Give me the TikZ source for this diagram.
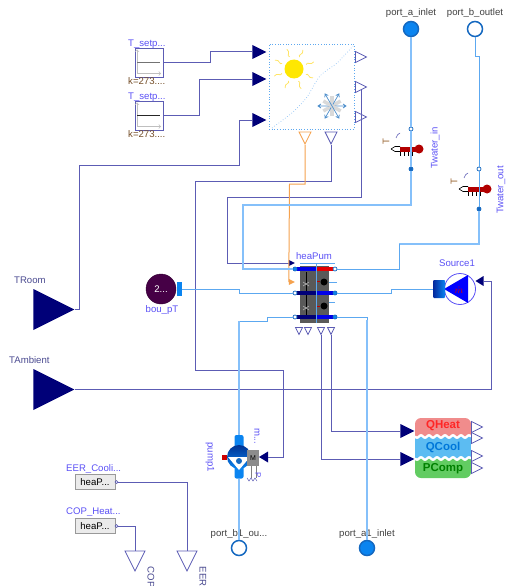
\documentclass[tikz,border=0pt]{standalone}
\usepackage{amsmath,amssymb}
\usepackage{fontspec}
\setmainfont{Liberation Sans}
\usetikzlibrary{shapes.geometric}
\definecolor{ctrlblue}{HTML}{5C5CB4}
\definecolor{navyin}{HTML}{000078}
\definecolor{fluidblue}{HTML}{85C0FA}
\definecolor{fluidthin}{HTML}{5CA8F0}
\definecolor{orangeout}{HTML}{F5A24E}
\definecolor{lblblue}{HTML}{5A50F5}
\definecolor{lbldark}{HTML}{4A4A90}
\definecolor{portblue}{HTML}{0A84F0}
\definecolor{portedge}{HTML}{1468C0}
\definecolor{qheatfill}{HTML}{F08C8C}
\definecolor{qcoolfill}{HTML}{5CBCF2}
\definecolor{pcompfill}{HTML}{62CC62}
\tikzset{
  ctrl/.style={ctrlblue, line width=1pt},
  fluid/.style={fluidblue, line width=1.3pt},
  fluidt/.style={fluidthin, line width=0.8pt},
  lbl/.style={font=\fontsize{9.6}{11}\selectfont, text=lblblue, inner sep=0pt},
  lbld/.style={lbl, text=black!75},
  tri/.style={isosceles triangle, isosceles triangle stretches, inner sep=0pt},
  bigin/.style={tri, fill=navyin, minimum width=41pt, minimum height=41pt, anchor=apex},
  smallin/.style={tri, fill=navyin, minimum width=14pt, minimum height=14pt, anchor=apex},
  tinyin/.style={tri, fill=navyin, minimum width=10pt, minimum height=8pt, anchor=apex, shape border rotate=180},
  outr/.style={tri, draw=ctrlblue, fill=white, line width=0.8pt, minimum width=11pt, minimum height=11pt, anchor=lower side},
  outd/.style={tri, draw=ctrlblue, fill=white, line width=0.8pt, shape border rotate=270, minimum width=12pt, minimum height=12pt, anchor=lower side},
  outs/.style={outd, minimum width=7pt, minimum height=7pt},
  bigport/.style={circle, draw=portedge, line width=1.5pt, minimum size=15pt, inner sep=0pt},
  sdot/.style={circle, draw=portedge, line width=0.7pt, minimum size=4pt, inner sep=0pt},
  srcbox/.style={rectangle, draw=ctrlblue, fill=white, line width=0.9pt, minimum width=28pt, minimum height=29pt, inner sep=0pt},
  gainbox/.style={rectangle, draw=black!40, fill=black!8, line width=1pt, font=\fontsize{9.6}{11}\selectfont, minimum width=40pt, minimum height=15pt, inner sep=0pt},
  qtext/.style={font=\fontsize{11.5}{13}\bfseries\selectfont, inner sep=0pt},
  wave/.style={white, line width=2.4pt, smooth, samples=57},
  nub/.style={rectangle, rounded corners=2pt, fill=portblue, minimum width=9pt, minimum height=13pt, inner sep=0pt},
}
\newcommand{\sensor}[3]{%
  \begin{scope}[shift={(#2,#3)}]
    \fill[red!70!black] (-11,-2.5) rectangle (8,2.5);
    \draw[line width=0.6pt] (-20,0) -- (-16,-2.5) -- (-11,-2.5) (-20,0) -- (-16,2.5) -- (-11,2.5);
    \foreach \t in {-11,-7,-3,1} \draw[line width=0.7pt] (\t,2.5) -- (\t,7);
    \fill[red!70!black] (8,0) circle (4.5);
    \draw[ctrlblue, line width=0.6pt] (-15,-11) .. controls (-14,-14) and (-13,-15) .. (-11,-16);
    \node[lbl, text=brown!80!black, rotate=90] (#1t) at (-25,-7) {T};
  \end{scope}
  \node[sdot, fill=white] (#1a) at (#2,#3-20) {};
  \node[sdot, fill=portedge] (#1b) at (#2,#3+20) {};
}
\newcommand{\srcplot}[2]{%
  \draw[black!25, line width=0.7pt, ->] (137,#2+11) -- (137,#2-13);
  \draw[black!25, line width=0.7pt, ->] (137,#2+11) -- (161,#2+11);
  \draw[#1, line width=1pt] (137,#2) -- (160,#2);
}
\begin{document}
\begin{tikzpicture}[x=1pt,y=-1pt]
  \useasboundingbox (0,0) rectangle (506,586);
  % sources
  \node[srcbox] (tsetpa) at (149,62.5) {};
  \node[srcbox] (tsetpb) at (149,115.5) {};
  \srcplot{black!55}{62.5}
  \srcplot{black!85}{115.5}
  \node[lbl, anchor=west] (tsetpalbl) at (128,44.5) {T\_setp...};
  \node[lbl, anchor=west] (tsetpblbl) at (128,97.5) {T\_setp...};
  \node[lbl, text=brown!60!black, anchor=west] (kalbl) at (128,81.5) {k=273....};
  \node[lbl, text=brown!60!black, anchor=west] (kblbl) at (128,134.5) {k=273....};
  % heating and cooling box
  \node[rectangle, draw=fluidthin, dotted, line width=0.7pt, minimum size=85pt, inner sep=0pt] (sunbox) at (311.5,86.5) {};
  \draw[fluidthin!70, dotted, line width=0.7pt] plot[smooth] coordinates {(272,128) (293,112) (307,97) (320,76) (337,63) (353,46)};
  \foreach \a in {0,45,...,315}
    \draw[orange!35!yellow!60, line width=0.8pt, shift={(294,69)}, rotate=\a+20] (13,0) .. controls (15,-3) and (17,3) .. (21,0);
  \fill[yellow!90!orange] (294,69) circle (9.5);
  \foreach \a in {0,60,120} {
    \draw[black!15, line width=3.5pt, shift={(332,106)}, rotate=\a+30] (-10,0) -- (10,0);
    \draw[fluidthin!85!black, line width=0.7pt, shift={(332,106)}, rotate=\a] (-14,0) -- (14,0) (11,-2) -- (14,0) -- (11,2) (-11,-2) -- (-14,0) -- (-11,2);
  }
  \node[smallin] (sunina) at (267,52) {};
  \node[smallin] (suninb) at (267,79) {};
  \node[smallin] (suninc) at (267,120) {};
  \node[outr] (sunouta) at (355,57) {};
  \node[outr] (sunoutb) at (355,87) {};
  \node[outr] (sunoutc) at (355,117) {};
  \node[outd, draw=orangeout] (sunoutd) at (305,131.5) {};
  \node[outd] (sunoute) at (331,131.5) {};
  % big inputs and ports
  \node[bigin] (troom) at (75,309.5) {};
  \node[bigin] (tamb) at (75,389.5) {};
  \node[lbl, text=lbldark, anchor=west] (troomlbl) at (14,280.5) {TRoom};
  \node[lbl, text=lbldark, anchor=west] (tamblbl) at (9,360.5) {TAmbient};
  \node[bigport, fill=portblue] (porta) at (411,29) {};
  \node[bigport, fill=white] (portb) at (475,29) {};
  \node[bigport, fill=white] (portbi) at (239,548) {};
  \node[bigport, fill=portblue] (portai) at (367,548) {};
  \node[lbld] (portalbl) at (411,13) {port\_a\_inlet};
  \node[lbld] (portblbl) at (475,13) {port\_b\_outlet};
  \node[lbld] (portbilbl) at (239,534) {port\_b1\_ou...};
  \node[lbld] (portailbl) at (367,534) {port\_a1\_inlet};
  % temperature sensors
  \sensor{twin}{411}{149}
  \sensor{twout}{479}{189}
  \node[lbl, rotate=90] (twinlbl) at (435,148) {Twater\_in};
  \node[lbl, rotate=90] (twoutlbl) at (501,190) {Twater\_out};
  % heat pump
  \node[rectangle, fill=black!65, minimum width=29pt, minimum height=57pt, inner sep=0pt] (heapum) at (314.5,294.5) {};
  \node[lbl] (heapumlbl) at (314,256) {heaPum};
  \draw[black, line width=0.6pt] (306,272) -- (306,315);
  \draw[black!30, line width=0.6pt] (303,282) -- (309,286) (303,286) -- (309,282) (303,306) -- (309,310) (303,310) -- (309,306);
  \draw[red!75!black, line width=0.6pt] (316,272) |- (320,281) (316,296) |- (320,306);
  \fill[black] (324,282) circle (3.5) (324,306) circle (3.5);
  \foreach \yy in {293,317} {
    \fill[navyin] (297,\yy-1.8) rectangle (316,\yy+1.8);
    \fill[blue!90!black] (316,\yy-1.8) rectangle (333,\yy+1.8);
  }
  \fill[blue!90!black] (297,267.2) rectangle (316,270.8);
  \fill[red!90!black] (316,267.2) rectangle (333,270.8);
  \draw[fluidthin, line width=0.6pt] (300,263.5) -- (335,263.5) (316,264) -- (316,323) (329,282) -- (337,282) (329,302) -- (335,302);
  \node[sdot, fill=portblue] (hpla) at (295,269) {};
  \node[sdot, fill=white] (hpra) at (335,269) {};
  \node[sdot, fill=white] (hplb) at (295,293) {};
  \node[sdot, fill=portblue] (hprb) at (335,293) {};
  \node[sdot, fill=white] (hplc) at (295,317) {};
  \node[sdot, fill=portblue] (hprc) at (335,317) {};
  \node[tri, fill=navyin, minimum width=6pt, minimum height=6pt, anchor=apex] (hpina) at (295.5,263) {};
  \node[tri, fill=orangeout, minimum width=6pt, minimum height=6pt, anchor=apex] (hpinb) at (295.5,282) {};
  \node[outs] (hpouta) at (299,327) {};
  \node[outs] (hpoutb) at (308,327) {};
  \node[outs] (hpoutc) at (321,327) {};
  \node[outs] (hpoutd) at (331,327) {};
  % boundary and source
  \node[circle, draw=black!60!violet, fill=black!45!violet, minimum size=30pt, inner sep=0pt, font=\fontsize{9.6}{11}\selectfont, text=white] (boupt) at (161,289) {2...};
  \node[rectangle, fill=portblue, minimum width=5pt, minimum height=14pt, inner sep=0pt] (bouport) at (179,289) {};
  \node[lbl] (bouptlbl) at (162,310) {bou\_pT};
  \node[circle, draw=lblblue, fill=white, line width=0.8pt, minimum size=31pt, inner sep=0pt] (source) at (460,289) {};
  \fill[blue] (444,289) -- (468,275) -- (468,303) -- cycle;
  \node[inner sep=0pt, text=red!85!black, font=\fontsize{10}{11}\selectfont] (sourcem) at (459,290) {$\dot m$};
  \node[rectangle, left color=navyin!70!portblue, right color=portblue, minimum width=12pt, minimum height=18pt, rounded corners=1pt, inner sep=0pt] (sourceport) at (439,289) {};
  \node[lbl] (sourcelbl) at (457,263) {Source1};
  \node[tinyin] (sourcein) at (475,281) {};
  % pump
  \node[nub] (pumptop) at (239,441.5) {};
  \node[nub] (pumpbot) at (239,472) {};
  \node[circle, top color=navyin!80!cyan, bottom color=portblue, minimum size=24pt, inner sep=0pt] (pumpbody) at (239,457) {};
  \fill[white] (228,457) -- (250,457) -- (239,470) -- cycle;
  \fill[portedge] (239,461) circle (3);
  \fill[red!80!black] (222,455) rectangle (227,460);
  \node[rectangle, fill=black!45, minimum width=12pt, minimum height=16pt, inner sep=0pt, font=\fontsize{7}{8}\selectfont] (pumpmotor) at (253,458) {M};
  \draw[black!50, line width=0.7pt] (251,466) -- (251,478) (256,466) -- (256,478);
  \draw[ctrlblue, line width=0.5pt] (247,478) -- (249,481) -- (251,478) -- (253,481) -- (255,478) -- (257,481);
  \node[lbl, rotate=-90] (pumplbl) at (210,457) {pump1};
  \node[lbl, rotate=-90] (pumpmlbl) at (257,436) {m...};
  \node[lbl, rotate=-90, font=\fontsize{8}{9}\selectfont] (pumpplbl) at (258,475) {P};
  \node[tinyin, minimum height=9pt, minimum width=11pt] (pumpin) at (258.5,457) {};
  % output block
  \fill[qheatfill, rounded corners=6pt] (415,418) rectangle (471,446);
  \fill[pcompfill, rounded corners=6pt] (415,450) rectangle (471,478);
  \fill[qcoolfill] (415,437) rectangle (471,459);
  \draw[wave, domain=415:471] plot (\x, {436.5+1.2*sin(45*(\x-415))});
  \draw[wave, domain=415:471] plot (\x, {458.5+1.2*sin(45*(\x-415))});
  \node[qtext, text=red!85!white] (qheat) at (443,426) {QHeat};
  \node[qtext, text=blue!45!cyan!85!black] (qcool) at (443,447.5) {QCool};
  \node[qtext, text=green!50!black] (pcomp) at (443,468.5) {PComp};
  \node[smallin] (qheatin) at (415,431) {};
  \node[smallin] (pcompin) at (415,459) {};
  \node[outr] (qouta) at (471,427) {};
  \node[outr] (qoutb) at (471,438) {};
  \node[outr] (qoutc) at (471,456) {};
  \node[outr] (qoutd) at (471,468) {};
  % gains
  \node[gainbox] (eerbox) at (95,482) {heaP...};
  \node[gainbox] (copbox) at (95,526) {heaP...};
  \node[sdot, draw=ctrlblue, minimum size=3pt] (eerport) at (116.5,482) {};
  \node[sdot, draw=ctrlblue, minimum size=3pt] (copport) at (116.5,526) {};
  \node[lbl, anchor=west] (eerlbl) at (66,468.5) {EER\_Cooli...};
  \node[lbl, anchor=west] (coplbl) at (66,512) {COP\_Heat...};
  \node[outd, minimum width=20pt, minimum height=20pt] (copout) at (135,550.5) {};
  \node[outd, minimum width=20pt, minimum height=20pt] (eerout) at (187,550.5) {};
  \node[lbl, text=lbldark, rotate=-90, anchor=west] (copoutlbl) at (151,566.5) {COP};
  \node[lbl, text=lbldark, rotate=-90, anchor=west] (eeroutlbl) at (203,566.5) {EER};
  % control wires
  \draw[ctrl] (tsetpa.east) -| (210,52) -- (sunina.lower side);
  \draw[ctrl] (tsetpb.east) -| (199,79) -- (suninb.lower side);
  \draw[ctrl] (troom.apex) -| (79,165) -| (239,120) -- (suninc.lower side);
  \draw[ctrl] (tamb.apex) -| (491,281) -- (sourcein.lower side);
  \draw[ctrl] (sunoutb.right side) |- (227,197) |- (hpina.lower side);
  \draw[ctrl] (sunoute.apex) |- (195,181) |- (283,370) |- (pumpin.lower side);
  \draw[orangeout, line width=1pt] (sunoutd.apex) |- (289.5,184) -- (hpinb.lower side);
  \draw[ctrl] (hpoutc.apex) |- (pcompin.lower side);
  \draw[ctrl] (hpoutd.apex) |- (qheatin.lower side);
  \draw[ctrl] (eerport.east) -| (eerout.lower side);
  \draw[ctrl] (copport.east) -| (copout.lower side);
  % fluid wires
  \coordinate (outbend) at (399,244);
  \coordinate (pumpbend) at (239,321);
  \coordinate (inbend) at (367,320);
  \draw[fluid] (porta.south) -- (twina.north);
  \draw[fluid] (twina.south) -- (twinb.north);
  \draw[fluid] (twinb.south) |- (243,205) |- (hpla.west);
  \draw[fluidt] (portb.south) |- (479,56.5) -- (twouta.north);
  \draw[fluidt] (twouta.south) -- (twoutb.north);
  \draw[fluid] (twoutb.south) |- (outbend);
  \draw[fluidt] (outbend) |- (hpra.east);
  \draw[fluidt] (bouport.east) -| (239,293) -- (hplb.west);
  \draw[fluidt] (hprb.east) -| (391,289) -- (sourceport.west);
  \draw[fluidt] (hplc.west) -| (267,321) -- (pumpbend);
  \draw[fluid] (pumpbend) -- (pumptop.north);
  \draw[fluid] (pumpbot.south) -- (portbi.north);
  \draw[fluidt] (hprc.east) -| (inbend);
  \draw[fluid] (inbend) -- (portai.north);
\end{tikzpicture}
\end{document}
